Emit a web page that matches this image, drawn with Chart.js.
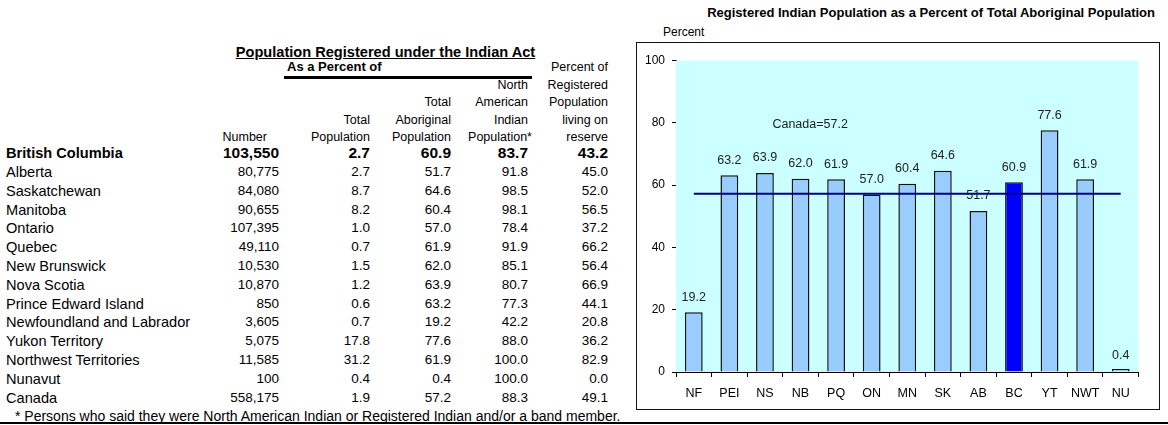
<!DOCTYPE html>
<html>
<head>
<meta charset="utf-8">
<script src="https://cdn.jsdelivr.net/npm/chart.js@4/dist/chart.umd.min.js"></script>
<style>
  html, body { margin:0; padding:0; background:#fff; }
  body { width:1168px; height:425px; position:relative; overflow:hidden; font-family:"Liberation Sans", Arial, sans-serif; color:#000; }
  .t { position:absolute; white-space:nowrap; }
  #box { position:absolute; left:636px; top:42px; width:524px; height:368px; box-sizing:border-box; border:1.5px solid #111; }
  #box canvas { position:absolute; left:0; top:0; }
</style>
</head>
<body>
<div id="table"></div>
<div class="t" id="chartTitle" style="left:700px; top:4px; width:455px; text-align:right; font-weight:bold; font-size:13px; line-height:18px;">Registered Indian Population as a Percent of Total Aboriginal Population</div>
<div class="t" style="left:663px; top:24px; font-size:12px; line-height:16px;">Percent</div>
<div id="box"><canvas id="c" width="521" height="365"></canvas></div>
<div class="t" style="left:0; top:422px; width:1168px; height:2px; background:#000;"></div>
<script>
// ---- chart data ----
const regions = ['NF','PEI','NS','NB','PQ','ON','MN','SK','AB','BC','YT','NWT','NU'];
const registeredPctAboriginal = [19.2, 63.2, 63.9, 62.0, 61.9, 57.0, 60.4, 64.6, 51.7, 60.9, 77.6, 61.9, 0.4];
const canadaAverage = 57.2;
const canadaLine = [57.2, 57.2, 57.2, 57.2, 57.2, 57.2, 57.2, 57.2, 57.2, 57.2, 57.2, 57.2, 57.2];
const highlightRegion = 'BC';

// ---- table data ----
const provinces = ['British Columbia','Alberta','Saskatchewan','Manitoba','Ontario','Quebec','New Brunswick','Nova Scotia','Prince Edward Island','Newfoundland and Labrador','Yukon Territory','Northwest Territories','Nunavut','Canada'];
const registeredNumber = ['103,550','80,775','84,080','90,655','107,395','49,110','10,530','10,870','850','3,605','5,075','11,585','100','558,175'];
const pctTotalPopulation = [2.7, 2.7, 8.7, 8.2, 1.0, 0.7, 1.5, 1.2, 0.6, 0.7, 17.8, 31.2, 0.4, 1.9];
const pctAboriginalPopulation = [60.9, 51.7, 64.6, 60.4, 57.0, 61.9, 62.0, 63.9, 63.2, 19.2, 77.6, 61.9, 0.4, 57.2];
const pctNAIPopulation = [83.7, 91.8, 98.5, 98.1, 78.4, 91.9, 85.1, 80.7, 77.3, 42.2, 88.0, 100.0, 100.0, 88.3];
const pctLivingOnReserve = [43.2, 45.0, 52.0, 56.5, 37.2, 66.2, 56.4, 66.9, 44.1, 20.8, 36.2, 82.9, 0.0, 49.1];
const footnote = '* Persons who said they were North American Indian or Registered Indian and/or a band member.';

// ---- build table ----
const tbl = document.getElementById('table');
function txt(s, x, y, opts) {
  opts = opts || {};
  const d = document.createElement('div');
  d.className = 't';
  d.textContent = s;
  const fs = opts.size || 13.5;
  const lh = 18;
  d.style.fontSize = fs + 'px';
  d.style.lineHeight = lh + 'px';
  d.style.top = (y - lh / 2) + 'px';
  if (opts.bold) d.style.fontWeight = 'bold';
  if (opts.underline) d.style.textDecoration = 'underline';
  if (opts.align === 'right') { d.style.left = (x - 300) + 'px'; d.style.width = '300px'; d.style.textAlign = 'right'; }
  else if (opts.align === 'center') { d.style.left = (x - 300) + 'px'; d.style.width = '600px'; d.style.textAlign = 'center'; }
  else { d.style.left = x + 'px'; }
  tbl.appendChild(d);
}
txt('Population Registered under the Indian Act', 385.5, 52, {bold:true, underline:true, size:14.6, align:'center'});
txt('As a Percent of', 287, 67, {bold:true, size:13});
const bar = document.createElement('div');
bar.className = 't';
bar.style.cssText = 'left:284px; top:76px; width:248px; height:3px; background:#000;';
tbl.appendChild(bar);

const colX = [279, 370, 451, 528, 608];
const hy = [67, 84.5, 102, 119.5, 137];
const hs = 12.5;
txt('Number', 267, hy[4], {size:hs, align:'right'});
txt('Total', colX[1], hy[3], {size:hs, align:'right'});
txt('Population', colX[1], hy[4], {size:hs, align:'right'});
txt('Total', colX[2], hy[2], {size:hs, align:'right'});
txt('Aboriginal', colX[2], hy[3], {size:hs, align:'right'});
txt('Population', colX[2], hy[4], {size:hs, align:'right'});
txt('North', colX[3], hy[1], {size:hs, align:'right'});
txt('American', colX[3], hy[2], {size:hs, align:'right'});
txt('Indian', colX[3], hy[3], {size:hs, align:'right'});
txt('Population*', colX[3] + 4, hy[4], {size:hs, align:'right'});
txt('Percent of', colX[4], hy[0], {size:hs, align:'right'});
txt('Registered', colX[4], hy[1], {size:hs, align:'right'});
txt('Population', colX[4], hy[2], {size:hs, align:'right'});
txt('living on', colX[4], hy[3], {size:hs, align:'right'});
txt('reserve', colX[4], hy[4], {size:hs, align:'right'});

provinces.forEach((p, i) => {
  const y = i === 0 ? 153 : 172 + (i - 1) * 18.8;
  const b = i === 0;
  const ns = b ? 15.5 : 13.5;
  txt(p, 6, y, {bold:b, size:14.6});
  txt(registeredNumber[i], colX[0], y, {bold:b, size:ns, align:'right'});
  txt(pctTotalPopulation[i].toFixed(1), colX[1], y, {bold:b, size:ns, align:'right'});
  txt(pctAboriginalPopulation[i].toFixed(1), colX[2], y, {bold:b, size:ns, align:'right'});
  txt(pctNAIPopulation[i].toFixed(1), colX[3], y, {bold:b, size:ns, align:'right'});
  txt(pctLivingOnReserve[i].toFixed(1), colX[4], y, {bold:b, size:ns, align:'right'});
});
txt(footnote, 15, 415.5, {size:14});

// ---- chart ----
const plotBg = {
  id: 'plotBg',
  beforeDatasetsDraw(chart) {
    const a = chart.chartArea, ctx = chart.ctx;
    ctx.save();
    ctx.fillStyle = '#CCFFFF';
    ctx.fillRect(a.left, a.top, a.right - a.left, a.bottom - a.top);
    ctx.restore();
  }
};
const labels = {
  id: 'labels',
  afterDatasetsDraw(chart) {
    const ctx = chart.ctx;
    const meta = chart.getDatasetMeta(0);
    const ys = chart.scales.y, xs = chart.scales.x;
    ctx.save();
    ctx.font = '12.5px "Liberation Sans", Arial, sans-serif';
    ctx.fillStyle = '#222';
    ctx.textAlign = 'center';
    ctx.textBaseline = 'middle';
    meta.data.forEach((el, i) => {
      ctx.fillText(registeredPctAboriginal[i].toFixed(1), el.x, ys.getPixelForValue(registeredPctAboriginal[i]) - 15);
    });
    const x3 = xs.getPixelForValue(3), x4 = xs.getPixelForValue(4);
    ctx.fillText('Canada=' + canadaAverage.toFixed(1), x3 + 0.27 * (x4 - x3), ys.getPixelForValue(79.3));
    ctx.restore();
  }
};

Chart.defaults.font.family = '"Liberation Sans", Arial, sans-serif';
Chart.defaults.font.size = 12;
Chart.defaults.color = '#000';

new Chart(document.getElementById('c'), {
  data: {
    labels: regions,
    datasets: [
      {
        type: 'bar',
        data: registeredPctAboriginal,
        backgroundColor: regions.map(r => r === highlightRegion ? '#0000FF' : '#99CCFF'),
        borderColor: '#111',
        borderWidth: 1.5,
        minBarLength: 3,
        categoryPercentage: 1,
        barPercentage: 0.5,
        order: 2
      },
      {
        type: 'line',
        data: canadaLine,
        borderColor: '#000080',
        borderWidth: 2,
        pointRadius: 0,
        fill: false,
        order: 1
      }
    ]
  },
  options: {
    responsive: false,
    animation: false,
    events: [],
    layout: { padding: { left: 0, right: 19.5, top: 17.5, bottom: 0 } },
    plugins: { legend: { display: false }, tooltip: { enabled: false }, title: { display: false } },
    scales: {
      x: {
        offset: true,
        grid: { offset: true, drawOnChartArea: false, drawTicks: true, tickLength: 5, color: '#000', lineWidth: 1 },
        border: { display: true, color: '#000', width: 1 },
        ticks: { padding: 9, color: '#000', font: { size: 12.5 }, maxRotation: 0, autoSkip: false },
        afterFit(s) { s.height = 36; }
      },
      y: {
        min: 0, max: 100,
        grid: { drawOnChartArea: false, drawTicks: true, tickLength: 4, color: '#000', lineWidth: 1 },
        border: { display: true, color: '#000', width: 1 },
        ticks: { stepSize: 20, padding: 7, color: '#000', font: { size: 12 } },
        afterFit(s) { s.width = 39; }
      }
    }
  },
  plugins: [plotBg, labels]
});
</script>
</body>
</html>
